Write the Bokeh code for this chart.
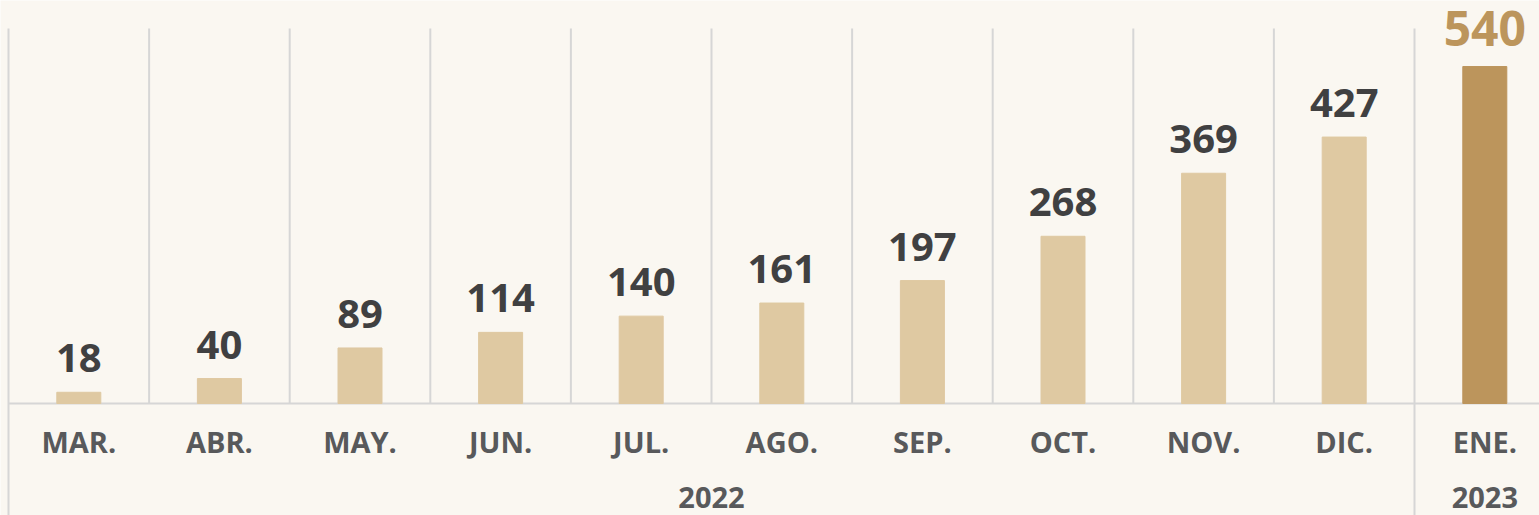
from bokeh.plotting import figure
from bokeh.models import Range1d, ColumnDataSource
from bokeh.core.properties import value
from bokeh.embed import file_html
from bokeh.resources import INLINE

# ---- data ----
months = ["MAR.", "ABR.", "MAY.", "JUN.", "JUL.", "AGO.", "SEP.", "OCT.", "NOV.", "DIC.", "ENE."]
values = [18, 40, 89, 114, 140, 161, 197, 268, 369, 427, 540]
years = ["2022", "2023"]
year_first = [0, 10]   # index of first month of each year
year_last = [9, 10]    # index of last month of each year

# ---- style ----
W, H = 1539, 515
BAR_COLOR = "#dfc9a2"
HIGHLIGHT = "#bc955c"
VALUE_COLOR = "#404041"
MONTH_COLOR = "#58595b"
GRID_COLOR = "#d6d6d6"
BG = "#faf7f1"
FONT = "Open Sans"

step_px = 140.6
left_px = 8
base_px = 403
ppu = 0.624  # pixels per unit

x0 = -0.5 - left_px / step_px
x1 = (W - left_px) / step_px - 0.5
y1 = base_px / ppu
y0 = -(H - base_px) / ppu

p = figure(width=W, height=H, x_range=Range1d(x0, x1), y_range=Range1d(y0, y1),
           output_backend="svg", toolbar_location=None, min_border=0,
           background_fill_color=BG, border_fill_color=BG, outline_line_color=None)
p.axis.visible = False
p.grid.visible = False

n = len(months)
idx = list(range(n))

# vertical separators
top_v = (base_px - 28) / ppu
bx = [i - 0.5 for i in range(n + 1)]
bottoms = []
for i in range(n + 1):
    if i == 0 or i in year_first[1:]:
        bottoms.append(y0)
    else:
        bottoms.append(0)
p.segment(x0=bx, y0=bottoms, x1=bx, y1=[top_v] * len(bx), line_color=GRID_COLOR, line_width=2)
# baseline
p.segment(x0=[-0.5], y0=[0], x1=[x1], y1=[0], line_color=GRID_COLOR, line_width=2)

colors = [BAR_COLOR] * (n - 1) + [HIGHLIGHT]
gaps = [34] * (n - 1) + [38]
src = ColumnDataSource(dict(x=idx, top=values, color=colors, label=[str(v) for v in values],
                            ly=[v + g / ppu for v, g in zip(values, gaps)],
                            lcolor=[VALUE_COLOR] * (n - 1) + [HIGHLIGHT],
                            lsize=["40px"] * (n - 1) + ["48px"]))
p.vbar(x="x", top="top", bottom=0, width=44 / step_px, color="color", source=src)

p.text(x="x", y="ly", text="label", text_color="lcolor", text_font_size="lsize",
       text_font=value(FONT), text_font_style="bold", text_align="center",
       text_baseline="middle", source=src)

# month labels
p.text(x=idx, y=[-(441 - base_px) / ppu] * n, text=months, text_color=MONTH_COLOR,
       text_font_size="29px", text_font=value(FONT), text_font_style="bold",
       text_align="center", text_baseline="middle")

# year labels
yx = []
for a, b in zip(year_first, year_last):
    yx.append((a + b) / 2)
p.text(x=yx, y=[-(497 - base_px) / ppu] * len(years), text=years, text_color=MONTH_COLOR,
       text_font_size="29px", text_font=value(FONT), text_font_style="bold",
       text_align="center", text_baseline="middle")

open("out.html", "w").write(file_html(p, INLINE))
